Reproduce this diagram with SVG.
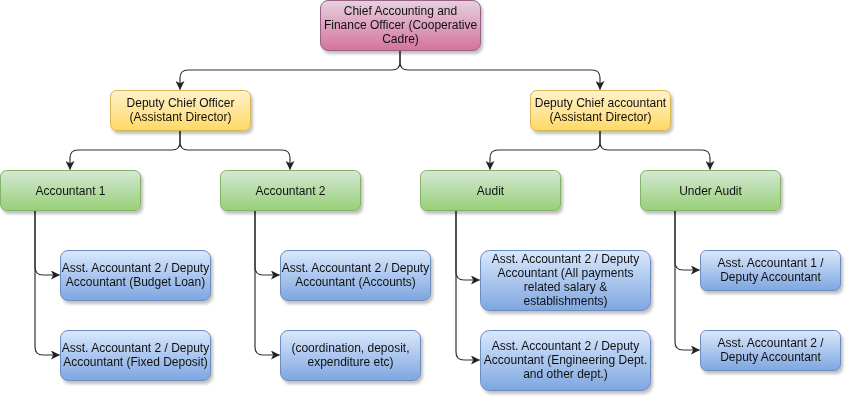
<svg xmlns="http://www.w3.org/2000/svg" width="852" height="403" viewBox="0 0 852 403">
<defs>
<linearGradient id="gPink" x1="0" y1="0" x2="0" y2="1"><stop offset="0" stop-color="#e6d0de"/><stop offset="1" stop-color="#d5739d"/></linearGradient>
<linearGradient id="gYellow" x1="0" y1="0" x2="0" y2="1"><stop offset="0" stop-color="#fff2cc"/><stop offset="1" stop-color="#ffd966"/></linearGradient>
<linearGradient id="gGreen" x1="0" y1="0" x2="0" y2="1"><stop offset="0" stop-color="#d5e8d4"/><stop offset="1" stop-color="#97d077"/></linearGradient>
<linearGradient id="gBlue" x1="0" y1="0" x2="0" y2="1"><stop offset="0" stop-color="#dae8fc"/><stop offset="1" stop-color="#7ea6e0"/></linearGradient>
<filter id="sh" x="-10%" y="-10%" width="130%" height="140%">
<feGaussianBlur in="SourceAlpha" stdDeviation="1.5"/>
<feOffset dx="2" dy="3" result="b"/>
<feComponentTransfer><feFuncA type="linear" slope="0.25"/></feComponentTransfer>
<feMerge><feMergeNode/><feMergeNode in="SourceGraphic"/></feMerge>
</filter>
<marker id="arr" viewBox="0 0 10 10" refX="9.5" refY="5" markerWidth="9" markerHeight="9" markerUnits="userSpaceOnUse" orient="auto">
<path d="M0,0 L10,5 L0,10 L2.5,5 Z" fill="#222"/>
</marker>
</defs>
<style>
.pink{fill:url(#gPink);stroke:#996185;stroke-width:1}
.yellow{fill:url(#gYellow);stroke:#d6b656;stroke-width:1}
.green{fill:url(#gGreen);stroke:#82b366;stroke-width:1}
.blue{fill:url(#gBlue);stroke:#6c8ebf;stroke-width:1}
.box{filter:url(#sh)}
text{font-family:"Liberation Sans",Arial,Helvetica,sans-serif;font-size:12px;fill:#111;text-anchor:middle}
.edge{fill:none;stroke:#333;stroke-width:1.2;marker-end:url(#arr)}
</style>
<rect width="852" height="403" fill="#fff"/>
<g id="connectors">
<path class="edge" d="M400,50 V62 Q400,70 392,70 H188 Q180,70 180,78 V89.5"/>
<path class="edge" d="M400,50 V62 Q400,70 408,70 H592 Q600,70 600,78 V89.5"/>
<path class="edge" d="M180,130 V142 Q180,150 172,150 H78 Q70,150 70,158 V169.5"/>
<path class="edge" d="M180,130 V142 Q180,150 188,150 H282 Q290,150 290,158 V169.5"/>
<path class="edge" d="M600,130 V142 Q600,150 592,150 H498 Q490,150 490,158 V169.5"/>
<path class="edge" d="M600,130 V142 Q600,150 608,150 H702 Q710,150 710,158 V169.5"/>
<path class="edge" d="M35,210 V267 Q35,275 43,275 H59.5"/>
<path class="edge" d="M35,210 V347 Q35,355 43,355 H59.5"/>
<path class="edge" d="M255,210 V267 Q255,275 263,275 H279.5"/>
<path class="edge" d="M255,210 V347 Q255,355 263,355 H279.5"/>
<path class="edge" d="M456,210 V272 Q456,280 464,280 H479.5"/>
<path class="edge" d="M456,210 V352 Q456,360 464,360 H479.5"/>
<path class="edge" d="M675,210 V262 Q675,270 683,270 H699.5"/>
<path class="edge" d="M675,210 V342 Q675,350 683,350 H699.5"/>
</g>
<g id="chief" class="box"><rect class="pink" x="320.5" y="0.5" width="160" height="50" rx="7.5"/>
<text x="400.5" y="15">Chief Accounting and</text><text x="400.5" y="29">Finance Officer (Cooperative</text><text x="400.5" y="43">Cadre)</text></g>
<g id="dco" class="box"><rect class="yellow" x="110.5" y="90.5" width="140" height="40" rx="6"/>
<text x="180.5" y="107">Deputy Chief Officer</text><text x="180.5" y="121">(Assistant Director)</text></g>
<g id="dca" class="box"><rect class="yellow" x="530.5" y="90.5" width="140" height="40" rx="6"/>
<text x="600.5" y="107">Deputy Chief accountant</text><text x="600.5" y="121">(Assistant Director)</text></g>
<g id="acc1" class="box"><rect class="green" x="0.5" y="170.5" width="140" height="40" rx="6"/>
<text x="70.5" y="194.5">Accountant 1</text></g>
<g id="acc2" class="box"><rect class="green" x="220.5" y="170.5" width="140" height="40" rx="6"/>
<text x="290.5" y="194.5">Accountant 2</text></g>
<g id="audit" class="box"><rect class="green" x="420.5" y="170.5" width="140" height="40" rx="6"/>
<text x="490.5" y="194.5">Audit</text></g>
<g id="underaudit" class="box"><rect class="green" x="640.5" y="170.5" width="140" height="40" rx="6"/>
<text x="710.5" y="194.5">Under Audit</text></g>
<g id="b1" class="box"><rect class="blue" x="60.5" y="250.5" width="150" height="50" rx="7.5"/>
<text x="135.5" y="272">Asst. Accountant 2 / Deputy</text><text x="135.5" y="286">Accountant (Budget Loan)</text></g>
<g id="b2" class="box"><rect class="blue" x="60.5" y="330.5" width="150" height="50" rx="7.5"/>
<text x="135.5" y="352">Asst. Accountant 2 / Deputy</text><text x="135.5" y="366">Accountant (Fixed Deposit)</text></g>
<g id="b3" class="box"><rect class="blue" x="280.5" y="250.5" width="150" height="50" rx="7.5"/>
<text x="355.5" y="272">Asst. Accountant 2 / Deputy</text><text x="355.5" y="286">Accountant (Accounts)</text></g>
<g id="b4" class="box"><rect class="blue" x="280.5" y="330.5" width="140" height="50" rx="7.5"/>
<text x="350.5" y="352">(coordination, deposit,</text><text x="350.5" y="366">expenditure etc)</text></g>
<g id="b5" class="box"><rect class="blue" x="480.5" y="250.5" width="170" height="60" rx="9"/>
<text x="565.5" y="263">Asst. Accountant 2 / Deputy</text><text x="565.5" y="277">Accountant (All payments</text><text x="565.5" y="291">related salary &amp;</text><text x="565.5" y="305">establishments)</text></g>
<g id="b6" class="box"><rect class="blue" x="480.5" y="330.5" width="170" height="60" rx="9"/>
<text x="565.5" y="350">Asst. Accountant 2 / Deputy</text><text x="565.5" y="364">Accountant (Engineering Dept.</text><text x="565.5" y="378">and other dept.)</text></g>
<g id="b7" class="box"><rect class="blue" x="700.5" y="250.5" width="140" height="40" rx="6"/>
<text x="770.5" y="267">Asst. Accountant 1 /</text><text x="770.5" y="281">Deputy Accountant</text></g>
<g id="b8" class="box"><rect class="blue" x="700.5" y="330.5" width="140" height="40" rx="6"/>
<text x="770.5" y="347">Asst. Accountant 2 /</text><text x="770.5" y="361">Deputy Accountant</text></g>
</svg>
